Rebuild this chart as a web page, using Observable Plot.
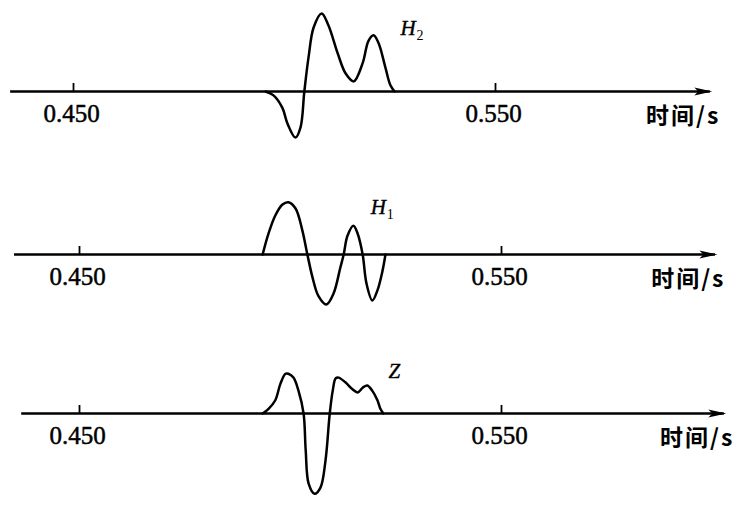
<!DOCTYPE html>
<html>
<head>
<meta charset="utf-8">
<script src="https://cdn.jsdelivr.net/npm/d3@7"></script>
<script src="https://cdn.jsdelivr.net/npm/@observablehq/plot@0.6"></script>
<style>
  html, body { margin: 0; padding: 0; background: #fff; }
  #chart { width: 739px; height: 509px; }
  #chart svg { display: block; }
  text.timelabel { letter-spacing: 2px; }
</style>
</head>
<body>
<div id="chart"></div>
<script>
// ---- data ----
const panelNames = ["H2", "H1", "Z"];
const labelMain = ["H", "H", "Z"];
const labelSub = ["2", "1", ""];
const labelT = [0.5275, 0.5190, 0.5232];
const labelV = [0.81, 0.60, 0.54];
const tickValues = [0.450, 0.550];
const timeLabel = "时间/s";
const axisStart = [0.4351, 0.4346, 0.4363];
const axisEnd = [0.6009, 0.6007, 0.6028];

const h2T = [0.4955,0.4974,0.4995,0.5007,0.5026,0.5038,0.5047,0.5057,0.5069,0.5088,0.5104,0.5126,0.5145,0.5164,0.5185,0.5199,0.5211,0.5223,0.5239,0.5251,0.5261];
const h2V = [0,-0.05,-0.21,-0.41,-0.59,-0.46,0,0.44,0.82,1.0,0.85,0.49,0.23,0.13,0.36,0.65,0.72,0.62,0.31,0.08,0];

const h1T = [0.4934,0.4948,0.4964,0.4981,0.4995,0.5012,0.5028,0.5040,0.5052,0.5066,0.5085,0.5102,0.5118,0.5126,0.5135,0.5149,0.5159,0.5171,0.5180,0.5194,0.5206,0.5218,0.5225];
const h1V = [0,0.27,0.50,0.64,0.67,0.59,0.31,0,-0.29,-0.53,-0.64,-0.50,-0.17,0,0.24,0.37,0.27,0,-0.37,-0.59,-0.46,-0.21,0];

const zT = [0.4934,0.4948,0.4964,0.4976,0.4988,0.4995,0.5007,0.5019,0.5031,0.5036,0.5043,0.5057,0.5071,0.5083,0.5093,0.5100,0.5107,0.5114,0.5130,0.5147,0.5159,0.5171,0.5182,0.5194,0.5206,0.5213,0.5220];
const zV = [0,0.06,0.17,0.38,0.51,0.51,0.46,0.29,0,-0.47,-0.90,-1.03,-0.95,-0.60,0,0.29,0.45,0.46,0.40,0.31,0.27,0.33,0.36,0.29,0.17,0.06,0];

const waveT = [h2T, h1T, zT];
const waveV = [h2V, h1V, zV];

// ---- layout ----
const panelHeights = [170, 165, 174];
const axisY = [91, 84, 78];
const pxPerUnit = 78;
const xRanges = [[73, 495], [79, 501], [79, 501]];

const arrowHead = {
  draw(context, size) {
    context.moveTo(2, 0);
    context.lineTo(-16, -4);
    context.lineTo(-12, 0);
    context.lineTo(-16, 4);
    context.closePath();
  }
};

const container = document.getElementById("chart");
panelNames.forEach((name, i) => {
  const wave = waveT[i].map((t, j) => ({t, v: waveV[i][j]}));
  const y0 = axisY[i];
  const plot = Plot.plot({
    width: 739,
    height: panelHeights[i],
    margin: 0,
    x: {domain: [0.45, 0.55], range: xRanges[i], axis: null},
    y: {domain: [-1, 1], range: [y0 + pxPerUnit, y0 - pxPerUnit], axis: null},
    marks: [
      Plot.ruleY([0], {x1: () => axisStart[i], x2: () => axisEnd[i], stroke: "#000", strokeWidth: 2.5}),
      Plot.dot([axisEnd[i]], {x: d => d, y: 0, symbol: arrowHead, r: 5, fill: "#000", stroke: "none"}),
      Plot.ruleX(tickValues, {x: d => d, y1: 0, y2: 0, insetTop: -8, stroke: "#000", strokeWidth: 1.8}),
      Plot.text(tickValues, {x: d => d, y: 0, dy: 22, dx: -2, text: d => d.toFixed(3),
        fontSize: 25, fontFamily: "Liberation Serif, serif", fill: "#000", stroke: "#000", strokeWidth: 0.5}),
      Plot.text([timeLabel], {x: () => axisEnd[i], y: 0, dx: 10, dy: 25, text: d => d, textAnchor: "end",
        fontSize: 23, fontWeight: "bold", fontFamily: "Noto Sans CJK SC, sans-serif", fill: "#000"}),
      Plot.line(wave, {x: "t", y: "v", curve: "catmull-rom", stroke: "#000", strokeWidth: 2.5}),
      Plot.text([labelMain[i]], {x: () => labelT[i], y: () => labelV[i], text: d => d, textAnchor: "start",
        fontSize: 21, fontStyle: "italic", fontFamily: "Liberation Serif, serif", fill: "#000", stroke: "#000", strokeWidth: 0.4}),
      Plot.text([labelSub[i]], {x: () => labelT[i], y: () => labelV[i], text: d => d, textAnchor: "start",
        dx: 16, dy: 7, fontSize: 14, fontFamily: "Liberation Serif, serif", fill: "#000"})
    ]
  });
  d3.select(plot).selectAll("text").filter(function() { return this.textContent === timeLabel; })
    .classed("timelabel", true);
  container.appendChild(plot);
});
</script>
</body>
</html>
